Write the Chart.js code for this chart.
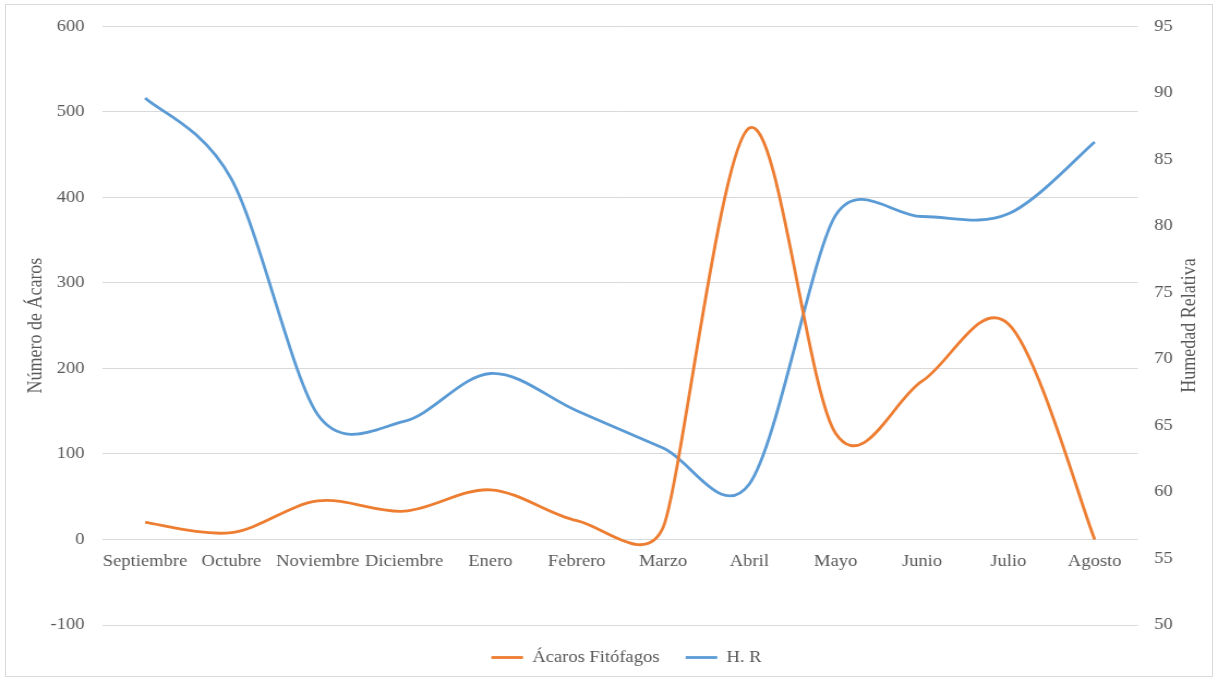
<!DOCTYPE html>
<html lang="es">
<head>
    <meta charset="UTF-8">
    <title>Ácaros y Humedad Relativa</title>
    <script src="https://cdn.jsdelivr.net/npm/chart.js@4.4.0/dist/chart.umd.min.js"></script>
    <style>
        html, body { margin: 0; padding: 0; background: #fff; overflow: hidden; }
        #frame { position: absolute; left: 5px; top: 4px; width: 1206px; height: 671px; border: 1px solid #d9d9d9; }
        /* chart is drawn a bit narrower and stretched sideways, like the source picture */
        #wrap { position: absolute; left: 0; top: 0; width: 1117px; height: 681px; transform-origin: 0 0; transform: scaleX(1.0904); }
    </style>
</head>
<body>
    <div id="frame"></div>
    <div id="wrap">
        <canvas id="myChart" width="1117" height="681"></canvas>
    </div>

    <script>
        // data
        var meses = ['Septiembre', 'Octubre', 'Noviembre', 'Diciembre', 'Enero', 'Febrero',
                     'Marzo', 'Abril', 'Mayo', 'Junio', 'Julio', 'Agosto'];
        var acaros = [20, 8, 45, 33, 58, 22, 14, 481, 124, 185, 252, 0];
        var humedad = [89.6, 83.5, 65.8, 65.3, 68.9, 66.1, 63.3, 60.6, 80.8, 80.7, 80.9, 86.3];

        var gris = '#595959';
        var fuente = { family: 'Liberation Serif', size: 17 };
        var fuenteTitulo = { family: 'Liberation Serif', size: 18 };
        var estirar = 1.0904;

        // Excel style smoothing: tangent (next - prev) / 6, capped at half the shorter neighbouring segment
        var suavizado = {
            id: 'suavizado',
            beforeDatasetsDraw: function (chart) {
                chart.data.datasets.forEach(function (ds, i) {
                    var meta = chart.getDatasetMeta(i);
                    var pts = meta.data;
                    var n = pts.length;
                    function dist(a, b) {
                        var dx = (b.x - a.x) * estirar, dy = b.y - a.y;
                        return Math.sqrt(dx * dx + dy * dy);
                    }
                    for (var k = 0; k < n; k++) {
                        var prev = pts[Math.max(k - 1, 0)];
                        var next = pts[Math.min(k + 1, n - 1)];
                        var f = 1 / 6;
                        if (k > 0 && k < n - 1) {
                            var d02 = dist(prev, next);
                            var tope = Math.min(dist(prev, pts[k]), dist(pts[k], next)) / 2;
                            if (d02 / 6 > tope) f = tope / d02;
                        }
                        var dx = (next.x - prev.x) * f;
                        var dy = (next.y - prev.y) * f;
                        pts[k].cp1x = pts[k].x - dx;
                        pts[k].cp1y = pts[k].y - dy;
                        pts[k].cp2x = pts[k].x + dx;
                        pts[k].cp2y = pts[k].y + dy;
                    }
                    meta.dataset._pointsUpdated = true;
                });
            }
        };

        // right axis title reads bottom to top, so draw it by hand
        var tituloDerecho = {
            id: 'tituloDerecho',
            afterLayout: function (chart) {
                // legend sits a little right of centre in the original
                chart.legend.left += 16;
                chart.legend.right += 16;
            },
            afterDraw: function (chart) {
                var ctx = chart.ctx;
                var area = chart.chartArea;
                ctx.save();
                ctx.translate(1091, (area.top + area.bottom) / 2);
                ctx.rotate(-Math.PI / 2);
                ctx.font = '18px "Liberation Serif"';
                ctx.fillStyle = gris;
                ctx.textAlign = 'center';
                ctx.textBaseline = 'middle';
                ctx.fillText('Humedad Relativa', 0, 0);
                ctx.restore();
            }
        };

        var ctx = document.getElementById('myChart').getContext('2d');
        var myChart = new Chart(ctx, {
            type: 'line',
            data: {
                labels: meses,
                datasets: [{
                    label: 'Ácaros Fitófagos',
                    data: acaros,
                    yAxisID: 'y',
                    borderColor: '#ED7D31',
                    backgroundColor: '#ED7D31',
                    borderWidth: 2.8,
                    pointRadius: 0,
                    fill: false,
                    tension: 0.4,
                    pointStyle: 'line'
                }, {
                    label: 'H. R',
                    data: humedad,
                    yAxisID: 'y1',
                    borderColor: '#5B9BD5',
                    backgroundColor: '#5B9BD5',
                    borderWidth: 2.8,
                    pointRadius: 0,
                    fill: false,
                    tension: 0.4,
                    pointStyle: 'line'
                }]
            },
            options: {
                responsive: false,
                animation: false,
                layout: { padding: { top: 23, bottom: 5, left: 0, right: 0 } },
                plugins: {
                    tooltip: { enabled: false },
                    legend: {
                        position: 'bottom',
                        labels: {
                            usePointStyle: true,
                            pointStyleWidth: 29,
                            padding: 24,
                            color: gris,
                            font: fuente
                        }
                    }
                },
                scales: {
                    x: {
                        position: { y: 0 },
                        offset: true,
                        grid: { display: false, drawTicks: false },
                        border: { display: false },
                        ticks: { color: gris, font: fuente, padding: 12, maxRotation: 0, autoSkip: false }
                    },
                    y: {
                        position: 'left',
                        min: -100,
                        max: 600,
                        ticks: { stepSize: 100, color: gris, font: fuente, padding: 16 },
                        grid: { color: '#d9d9d9', drawTicks: false },
                        border: { display: false },
                        title: { display: true, text: 'Número de Ácaros', color: gris, font: fuenteTitulo, padding: { top: 22, bottom: 0 } },
                        afterFit: function (scale) { scale.width = 93.5; }
                    },
                    y1: {
                        position: 'right',
                        min: 50,
                        max: 95,
                        ticks: { stepSize: 5, color: gris, font: fuente, padding: 15 },
                        grid: { display: false, drawTicks: false },
                        border: { display: false },
                        afterFit: function (scale) { scale.width = 73.5; }
                    }
                }
            },
            plugins: [suavizado, tituloDerecho]
        });
    </script>
</body>
</html>
